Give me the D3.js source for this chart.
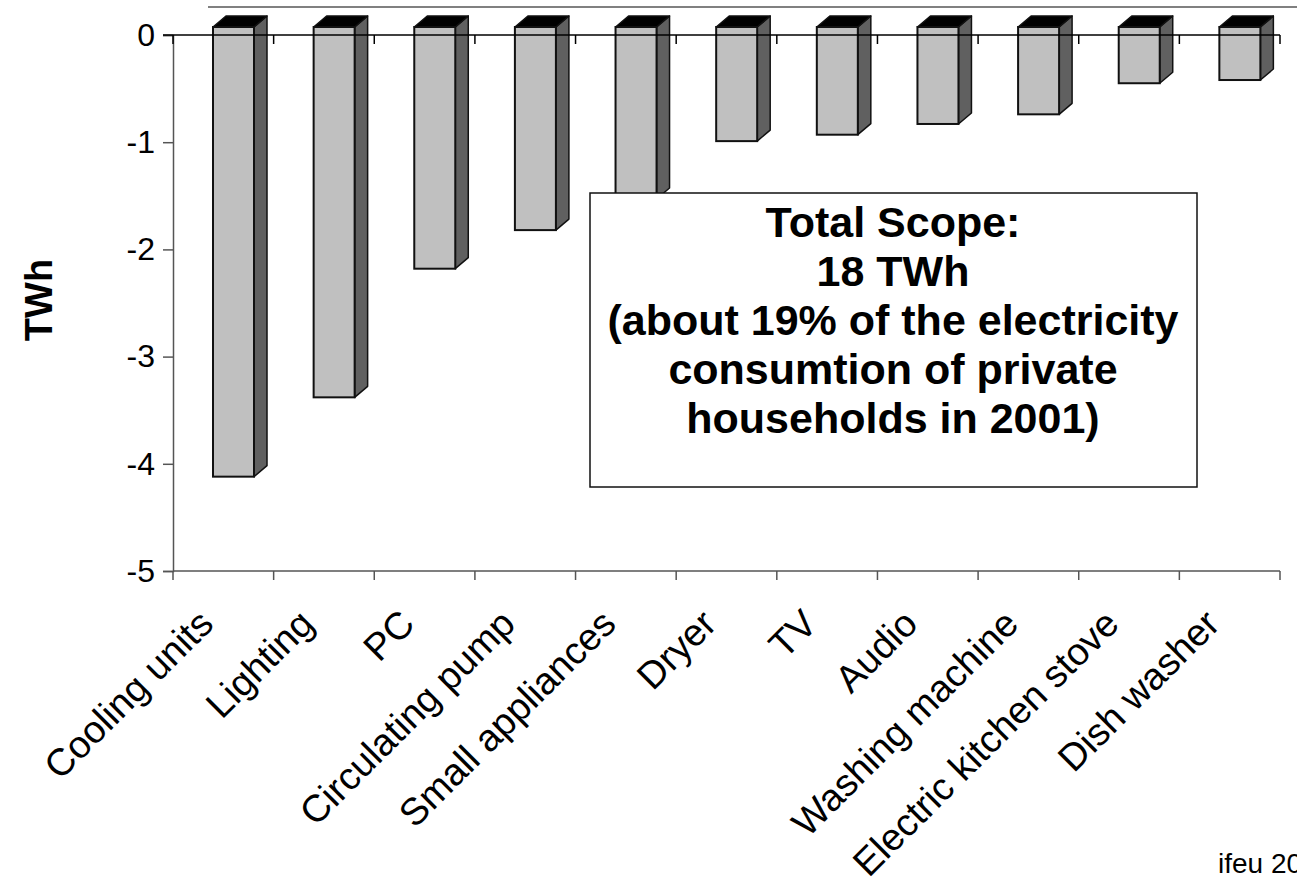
<!DOCTYPE html>
<html>
<head>
<meta charset="utf-8">
<script src="https://cdn.jsdelivr.net/npm/d3@7"></script>
<style>
  body { margin: 0; background: #fff; }
  text { font-family: Arial, "Liberation Sans", sans-serif; }
</style>
</head>
<body>
<div class="chart"></div>
<script>
var width = 1297, height = 880;

// data
var categories = ["Cooling units", "Lighting", "PC", "Circulating pump", "Small appliances",
  "Dryer", "TV", "Audio", "Washing machine", "Electric kitchen stove", "Dish washer"];
var savings = [-4.12, -3.38, -2.18, -1.82, -1.53, -0.99, -0.93, -0.83, -0.74, -0.45, -0.42];
var yTicks = [0, -1, -2, -3, -4, -5];
var boxLines = ["Total Scope:", "18 TWh", "(about 19% of the electricity",
  "consumtion of private", "households in 2001)"];

var data = categories.map(function(c, i) { return {cat: c, v: savings[i]}; });

var svg = d3.select(".chart").append("svg")
  .attr("width", width)
  .attr("height", height);

var x = d3.scaleBand().domain(categories).range([173, 1280]).padding(0);
var y = d3.scaleLinear().domain([-5, 0]).range([571, 35]);

var depthX = 13, depthY = -11, lift = 8;
var barOff = 40, barW = 41;

// back wall top edge
svg.append("line")
  .attr("x1", 208).attr("x2", width)
  .attr("y1", 7).attr("y2", 7)
  .attr("stroke", "#808080").attr("stroke-width", 2);

// y axis
var yAxis = svg.append("g")
  .attr("transform", "translate(173,0)")
  .call(d3.axisLeft(y).tickValues(yTicks).tickSize(10).tickPadding(8).tickFormat(d3.format("d")));
yAxis.select(".domain").attr("stroke", "#555").attr("stroke-width", 1.5);
yAxis.selectAll(".tick line").attr("stroke", "#555").attr("stroke-width", 1.5);
yAxis.selectAll("text").attr("font-size", 32).attr("fill", "#000")
  .text(function(d) { return d === 0 ? "0" : "-" + Math.abs(d); });

// bottom axis
var boundaries = categories.map(function(c) { return x(c); }).concat([1280]);
svg.append("line")
  .attr("x1", 173).attr("x2", 1280).attr("y1", y(-5)).attr("y2", y(-5))
  .attr("stroke", "#555").attr("stroke-width", 1.5);
svg.selectAll(".btick").data(boundaries).enter().append("line")
  .attr("class", "btick")
  .attr("x1", function(d) { return d; }).attr("x2", function(d) { return d; })
  .attr("y1", y(-5)).attr("y2", y(-5) + 9)
  .attr("stroke", "#555").attr("stroke-width", 1.5);

// bars
var bars = svg.selectAll(".bar").data(data).enter().append("g").attr("class", "bar");

bars.append("path") // side
  .attr("d", function(d) {
    var x1 = x(d.cat) + barOff + barW, t = y(0) - lift, b = y(d.v);
    return "M" + x1 + "," + t + "L" + (x1 + depthX) + "," + (t + depthY) +
      "L" + (x1 + depthX) + "," + (b + depthY) + "L" + x1 + "," + b + "Z";
  })
  .attr("fill", "#606060").attr("stroke", "#111").attr("stroke-width", 1.5)
  .attr("stroke-linejoin", "round");

bars.append("path") // top
  .attr("d", function(d) {
    var x0 = x(d.cat) + barOff, t = y(0) - lift;
    return "M" + x0 + "," + t + "L" + (x0 + depthX) + "," + (t + depthY) +
      "L" + (x0 + barW + depthX) + "," + (t + depthY) + "L" + (x0 + barW) + "," + t + "Z";
  })
  .attr("fill", "#000").attr("stroke", "#111").attr("stroke-width", 1.5)
  .attr("stroke-linejoin", "round");

bars.append("rect") // front
  .attr("x", function(d) { return x(d.cat) + barOff; })
  .attr("y", y(0) - lift)
  .attr("width", barW)
  .attr("height", function(d) { return y(d.v) - y(0) + lift; })
  .attr("fill", "#c0c0c0").attr("stroke", "#111").attr("stroke-width", 2);

// zero line with ticks
svg.append("line")
  .attr("x1", 163).attr("x2", 1280).attr("y1", y(0)).attr("y2", y(0))
  .attr("stroke", "#000").attr("stroke-width", 1.5);
svg.selectAll(".ztick").data(boundaries).enter().append("line")
  .attr("class", "ztick")
  .attr("x1", function(d) { return d; }).attr("x2", function(d) { return d; })
  .attr("y1", y(0)).attr("y2", y(0) + 9)
  .attr("stroke", "#000").attr("stroke-width", 1.5);

// category labels
svg.selectAll(".cat").data(categories).enter().append("text")
  .attr("class", "cat")
  .attr("transform", function(d) {
    return "translate(" + (x(d) + x.bandwidth() / 2 - 8) + ",626) rotate(-45)";
  })
  .attr("text-anchor", "end")
  .attr("font-size", 38)
  .text(function(d) { return d; });

// y axis title
svg.append("text")
  .attr("transform", "translate(52,300) rotate(-90)")
  .attr("text-anchor", "middle")
  .attr("font-size", 38).attr("font-weight", "bold")
  .text("TWh");

// annotation box
svg.append("rect")
  .attr("x", 590).attr("y", 193).attr("width", 607).attr("height", 294)
  .attr("fill", "#fff").attr("stroke", "#111").attr("stroke-width", 1.5);
svg.selectAll(".box").data(boxLines).enter().append("text")
  .attr("class", "box")
  .attr("x", 893)
  .attr("y", function(d, i) { return 237 + i * 49; })
  .attr("text-anchor", "middle")
  .attr("font-size", 43).attr("font-weight", "bold")
  .text(function(d) { return d; });

// source
svg.append("text")
  .attr("x", 1218).attr("y", 873)
  .attr("font-size", 28)
  .text("ifeu 2005");
</script>
</body>
</html>
